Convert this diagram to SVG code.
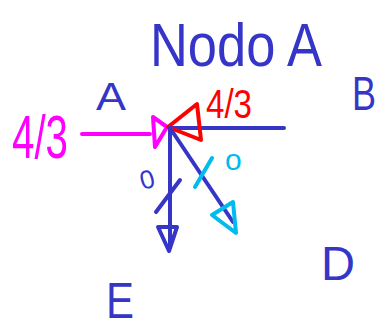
<svg xmlns="http://www.w3.org/2000/svg" width="383" height="331" viewBox="0 0 383 331">
<style>
text{font-family:"Liberation Sans","DejaVu Sans",sans-serif;}
.b{fill:#3535c8;}
.m{fill:#ff00ff;}
.r{fill:#ff0000;}
.c{fill:#00bbee;}
.ln{fill:none;stroke-width:4;stroke-linecap:round;stroke-linejoin:round;}
.sb{stroke:#3535c8;}
.sm{stroke:#ff00ff;}
.sr{stroke:#ff0000;}
.sc{stroke:#00bbee;}
</style>
<rect width="383" height="331" fill="#ffffff"/>
<g id="node-A">
<text class="b" x="150" y="66" font-size="62" textLength="172" lengthAdjust="spacingAndGlyphs">Nodo A</text>
</g>
<g id="node-B">
<text class="b" x="352" y="110" font-size="48" textLength="24" lengthAdjust="spacingAndGlyphs">B</text>
</g>
<g id="node-D">
<text class="b" x="321" y="280" font-size="48" textLength="34" lengthAdjust="spacingAndGlyphs">D</text>
</g>
<g id="node-E">
<text class="b" x="106" y="318" font-size="50" textLength="28" lengthAdjust="spacingAndGlyphs">E</text>
</g>
<g id="connectors">
<line class="ln sm" x1="82" y1="134" x2="150" y2="134"/>
<polygon class="ln sm" points="153,117 167,127 155,147"/>
<line class="ln sb" x1="170" y1="128" x2="284" y2="128"/>
<polygon class="ln sr" points="168,127 197,104 201,140"/>
<line class="ln sb" x1="170" y1="128" x2="170" y2="246"/>
<polygon class="ln sb" points="158,227 177,227 169,251"/>
<line class="ln sb" x1="170" y1="128" x2="233" y2="222"/>
<polygon class="ln sc" points="212,215 233,202 236,233"/>
<line class="ln sb" x1="156" y1="212" x2="180" y2="180"/>
<line class="ln sc" x1="195" y1="187" x2="212" y2="158"/>
</g>
<g id="labels">
<text class="b" x="96" y="110" font-size="38" textLength="30" lengthAdjust="spacingAndGlyphs">A</text>
<text class="m" x="12" y="158" font-size="62" textLength="56" lengthAdjust="spacingAndGlyphs">4/3</text>
<text class="r" x="206" y="118" font-size="40" textLength="46" lengthAdjust="spacingAndGlyphs">4/3</text>
<text class="b" x="140" y="188" font-size="26" transform="rotate(-15 149 180)">0</text>
<text class="c" x="225" y="170" font-size="30">o</text>
</g>
</svg>
